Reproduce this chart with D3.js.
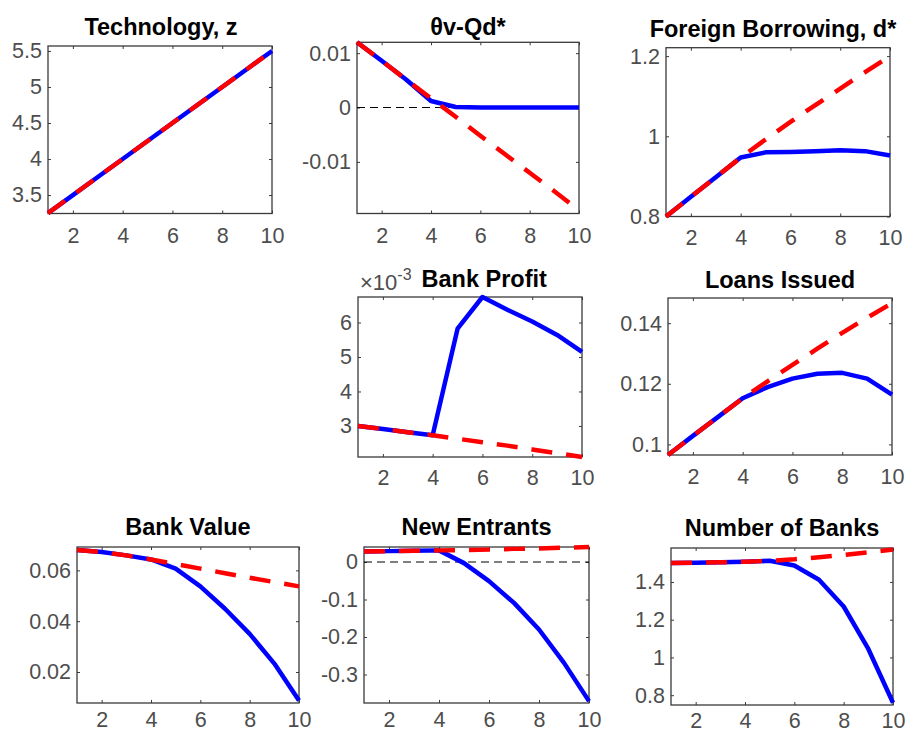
<!DOCTYPE html>
<html>
<head>
<meta charset="utf-8">
<script src="https://cdn.jsdelivr.net/npm/d3@7/dist/d3.min.js"></script>
<style>
  body { margin: 0; background: #ffffff; }
  svg { display: block; }
</style>
</head>
<body>
<script>
// Horizon (periods) shared by every panel
const periods = [1, 2, 3, 4, 5, 6, 7, 8, 9, 10];
const xTickValues = [2, 4, 6, 8, 10];

// Technology, z
const techBlue = [3.25, 3.50, 3.75, 4.00, 4.25, 4.50, 4.75, 5.00, 5.25, 5.50];
const techRed  = [3.25, 3.50, 3.75, 4.00, 4.25, 4.50, 4.75, 5.00, 5.25, 5.50];
const techTicks = [3.5, 4, 4.5, 5, 5.5];

// θv-Qd*
const gapBlue = [0.0120, 0.0086, 0.0051, 0.0012, 0.0001, 0.0000, 0.0000, 0.0000, 0.0000, 0.0000];
const gapRed  = [0.0120, 0.0086, 0.0051, 0.0017, -0.0017, -0.0052, -0.0086, -0.0120, -0.0154, -0.0189];
const gapTicks = [-0.01, 0, 0.01];

// Foreign Borrowing, d*
const debtBlue = [0.800, 0.849, 0.898, 0.947, 0.960, 0.961, 0.963, 0.965, 0.963, 0.952];
const debtRed  = [0.800, 0.849, 0.898, 0.947, 0.992, 1.036, 1.078, 1.119, 1.160, 1.200];
const debtTicks = [0.8, 1, 1.2];

// Bank Profit
const profitBlue = [0.00300, 0.00291, 0.00282, 0.00273, 0.00582, 0.00674, 0.00637, 0.00603, 0.00564, 0.00515];
const profitRed  = [0.00300, 0.00291, 0.00282, 0.00273, 0.00263, 0.00253, 0.00243, 0.00232, 0.00221, 0.00210];
const profitTicks = [0.003, 0.004, 0.005, 0.006];

// Loans Issued
const loansBlue = [0.0965, 0.1028, 0.1090, 0.1152, 0.1189, 0.1217, 0.1233, 0.1236, 0.1217, 0.1164];
const loansRed  = [0.0965, 0.1028, 0.1090, 0.1152, 0.1208, 0.1262, 0.1316, 0.1368, 0.1418, 0.1466];
const loansTicks = [0.1, 0.12, 0.14];

// Bank Value
const valueBlue = [0.0680, 0.0672, 0.0659, 0.0643, 0.0607, 0.0537, 0.0449, 0.0350, 0.0233, 0.0088];
const valueRed  = [0.0680, 0.0672, 0.0659, 0.0643, 0.0625, 0.0607, 0.0589, 0.0571, 0.0554, 0.0537];
const valueTicks = [0.02, 0.04, 0.06];

// New Entrants
const entrantsBlue = [0.028, 0.029, 0.030, 0.031, -0.003, -0.051, -0.109, -0.180, -0.269, -0.371];
const entrantsRed  = [0.028, 0.029, 0.030, 0.031, 0.032, 0.033, 0.035, 0.036, 0.038, 0.040];
const entrantsTicks = [-0.3, -0.2, -0.1, 0];

// Number of Banks
const banksBlue = [1.500, 1.502, 1.504, 1.507, 1.512, 1.487, 1.412, 1.270, 1.045, 0.760];
const banksRed  = [1.500, 1.502, 1.504, 1.507, 1.512, 1.520, 1.531, 1.543, 1.557, 1.572];
const banksTicks = [0.8, 1, 1.2, 1.4];

const W = 907, H = 736;
const FONT = "'Liberation Sans', Arial, Helvetica, sans-serif";
const TICK_SIZE = 21.5, TITLE_SIZE = 23.5;
const AXIS_COLOR = "#3a3a3a";
const LABEL_COLOR = "#4d4d4d";
const LINE_W = 4.5;

const plainFmt = v => String(+v.toFixed(6));
const milliFmt = v => String(Math.round(v * 1000));

const panels = [
  { title: "Technology, z", blue: techBlue, red: techRed, yDomain: [3.244, 5.569], yTicks: techTicks,
    box: [48, 272, 46, 213.5], titleX: 161, titleY: 35, fmt: plainFmt, xPad: 14 },
  { title: "θv-Qd*", blue: gapBlue, red: gapRed, yDomain: [-0.0195, 0.0120], yTicks: gapTicks, zero: true,
    box: [357, 579, 42.3, 213.5], titleX: 468, titleY: 35, fmt: plainFmt, xPad: 14 },
  { title: "Foreign Borrowing, d*", blue: debtBlue, red: debtRed, yDomain: [0.8, 1.221], yTicks: debtTicks,
    box: [666, 890, 47.7, 216.5], titleX: 773, titleY: 36.5, fmt: plainFmt, xPad: 13 },
  { title: "Bank Profit", blue: profitBlue, red: profitRed, yDomain: [0.00210, 0.00674], yTicks: profitTicks,
    box: [358, 582, 297, 457], titleX: 421.5, titleY: 287, titleAnchor: "start", fmt: milliFmt, exponent: "-3", xPad: 13 },
  { title: "Loans Issued", blue: loansBlue, red: loansRed, yDomain: [0.0965, 0.1483], yTicks: loansTicks,
    box: [668, 892, 298, 455], titleX: 780, titleY: 288, fmt: plainFmt, xPad: 14 },
  { title: "Bank Value", blue: valueBlue, red: valueRed, yDomain: [0.0078, 0.0692], yTicks: valueTicks,
    box: [77, 299, 547, 703], titleX: 188, titleY: 535, fmt: plainFmt, xPad: 9 },
  { title: "New Entrants", blue: entrantsBlue, red: entrantsRed, yDomain: [-0.376, 0.040], yTicks: entrantsTicks, zero: true,
    box: [364, 589, 547, 703], titleX: 476.5, titleY: 535, fmt: plainFmt, xPad: 9 },
  { title: "Number of Banks", blue: banksBlue, red: banksRed, yDomain: [0.748, 1.580], yTicks: banksTicks,
    box: [671, 893, 548, 705], titleX: 782, titleY: 536, fmt: plainFmt, xPad: 8 }
];

const svg = d3.select("body").append("svg")
  .attr("width", W).attr("height", H)
  .attr("font-family", FONT);

svg.append("rect").attr("width", W).attr("height", H).attr("fill", "#ffffff");

panels.forEach(p => {
  const [x0, x1, y0, y1] = p.box;
  const x = d3.scaleLinear().domain([1, 10]).range([x0, x1]);
  const y = d3.scaleLinear().domain(p.yDomain).range([y1, y0]);
  const g = svg.append("g");

  // Axes: tick marks point inward, mirrored on top and right
  const tickLen = 3;
  g.append("g").attr("transform", `translate(0,${y1})`)
    .call(d3.axisBottom(x).tickValues(xTickValues).tickSizeInner(-tickLen).tickSizeOuter(0).tickPadding(p.xPad).tickFormat(d3.format("d")))
    .call(a => a.select(".domain").remove());
  g.append("g").attr("transform", `translate(0,${y0})`)
    .call(d3.axisTop(x).tickValues(xTickValues).tickSizeInner(-tickLen).tickSizeOuter(0).tickFormat(""))
    .call(a => a.select(".domain").remove());
  g.append("g").attr("transform", `translate(${x0},0)`)
    .call(d3.axisLeft(y).tickValues(p.yTicks).tickSizeInner(-tickLen).tickSizeOuter(0).tickPadding(6).tickFormat(p.fmt))
    .call(a => a.select(".domain").remove());
  g.append("g").attr("transform", `translate(${x1},0)`)
    .call(d3.axisRight(y).tickValues(p.yTicks).tickSizeInner(-tickLen).tickSizeOuter(0).tickFormat(""))
    .call(a => a.select(".domain").remove());

  g.selectAll(".tick line").attr("stroke", AXIS_COLOR).attr("stroke-width", 1);
  g.selectAll(".tick text")
    .attr("fill", LABEL_COLOR)
    .attr("font-size", TICK_SIZE)
    .attr("font-family", FONT);

  // Axes box
  g.append("rect")
    .attr("x", x0).attr("y", y0)
    .attr("width", x1 - x0).attr("height", y1 - y0)
    .attr("fill", "none").attr("stroke", AXIS_COLOR).attr("stroke-width", 1.3);

  // Zero reference line
  if (p.zero) {
    g.append("line")
      .attr("x1", x0).attr("x2", x1)
      .attr("y1", y(0)).attr("y2", y(0))
      .attr("stroke", "#000").attr("stroke-width", 1.2)
      .attr("stroke-dasharray", "8,5");
  }

  const line = d3.line().x((d, i) => x(periods[i])).y(d => y(d));

  g.append("path").datum(p.blue)
    .attr("d", line)
    .attr("fill", "none").attr("stroke", "#0000ff")
    .attr("stroke-width", LINE_W)
    .attr("stroke-linejoin", "round");

  g.append("path").datum(p.red)
    .attr("d", line)
    .attr("fill", "none").attr("stroke", "#ff0000")
    .attr("stroke-width", LINE_W)
    .attr("stroke-dasharray", "21,14")
    .attr("stroke-linejoin", "round");

  // Title
  g.append("text")
    .attr("x", p.titleX).attr("y", p.titleY)
    .attr("text-anchor", p.titleAnchor || "middle")
    .attr("font-size", TITLE_SIZE).attr("font-weight", "bold")
    .attr("fill", "#000")
    .text(p.title);

  // Axis exponent label
  if (p.exponent) {
    const t = g.append("text")
      .attr("x", x0 + 2).attr("y", y0 - 7)
      .attr("font-size", 22).attr("fill", LABEL_COLOR);
    t.append("tspan").text("×10");
    t.append("tspan").attr("dy", -10).attr("font-size", 16).text(p.exponent);
  }
});
</script>
</body>
</html>
